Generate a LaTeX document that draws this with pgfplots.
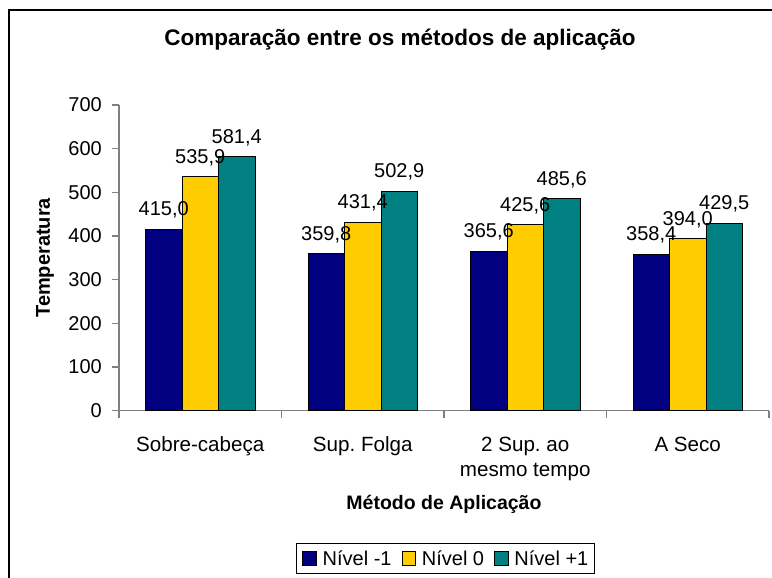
\documentclass[border=0pt]{standalone}
\usepackage{pgfplots}
\pgfplotsset{compat=1.18}
\usepackage{fontspec}
\setmainfont{Liberation Sans}
\frenchspacing
\definecolor{navyb}{HTML}{000080}
\definecolor{goldb}{HTML}{FFCC00}
\definecolor{tealb}{HTML}{008080}
\definecolor{axgray}{HTML}{808080}
\newcommand{\fs}{\fontsize{20}{24}\selectfont}
\newcommand{\fx}{\fontsize{20.6}{25}\selectfont}
\begin{document}
\begin{tikzpicture}[x=1pt,y=1pt]
\clip (0,0) rectangle (772,-578);
\fill[white] (0,0) rectangle (772,-578);
\draw[line width=1.5pt] (9,-620) -- (9,-10) -- (820,-10);
\begin{axis}[
  at={(119pt,-410.7pt)}, anchor=south west,
  scale only axis, width=650pt, height=305.7pt,
  xmin=-0.5, xmax=3.5, ymin=0, ymax=700,
  ybar=0pt, bar width=36.5pt,
  axis x line=bottom, axis y line=left,
  axis line style={draw=axgray, line width=1.2pt, -},
  ytick={0,100,...,700},
  xtick={0,1,2,3},
  xticklabels={Sobre-cabeça, Sup. Folga, {2 Sup. ao\\mesmo tempo}, A Seco},
  minor xtick={-0.5,0.5,1.5,2.5,3.5},
  tick align=outside, major tick length=7pt, minor tick length=7pt,
  every tick/.style={draw=axgray, line width=1.2pt},
  every major x tick/.append style={draw=none},
  /pgf/number format/assume math mode=true,
  yticklabel style={font=\fs, anchor=east, inner sep=0pt, xshift=-10pt},
  xticklabel style={font=\fx, anchor=north, align=center, inner sep=0pt, yshift=-19pt},
  title={Comparação entre os métodos de aplicação},
  title style={font=\fontsize{22.5}{26}\selectfont\bfseries, at={(axis description cs:0.4323,1.1766)}, anchor=base, inner sep=0pt},
  xlabel={Método de Aplicação},
  xlabel style={font=\fontsize{19.5}{23}\selectfont\bfseries, at={(axis description cs:0.5,-0.3248)}, anchor=base, inner sep=0pt},
  ylabel={Temperatura},
  ylabel style={font=\fs\bfseries, at={(axis description cs:-0.1062,0.5)}, anchor=base, inner sep=0pt},
  nodes near coords={\pgfmathprintnumber[fixed,fixed zerofill,precision=1,use comma,assume math mode=true]{\pgfplotspointmeta}},
  every node near coord/.append style={font=\fs, anchor=base, inner sep=0pt, yshift=13.5pt},
  legend columns=3,
  legend style={at={(axis description cs:0.2723,-0.4328)}, anchor=north west, draw=black, line width=0.8pt, font=\fs, inner xsep=6pt, inner ysep=7pt,
    nodes={inner sep=0pt},
    /tikz/every odd column/.style={column sep=6pt},
    /tikz/every even column/.style={column sep=10pt}},
  legend image code/.code={\draw[#1,draw=black,line width=0.8pt] (0pt,-6.75pt) rectangle (13.5pt,6.75pt);},
]
\addplot[fill=navyb, draw=black, line width=0.8pt] coordinates {(0,415.0) (1,359.8) (2,365.6) (3,358.4)};
\addplot[fill=goldb, draw=black, line width=0.8pt] coordinates {(0,535.9) (1,431.4) (2,425.6) (3,394.0)};
\addplot[fill=tealb, draw=black, line width=0.8pt] coordinates {(0,581.4) (1,502.9) (2,485.6) (3,429.5)};
\legend{Nível -1, Nível 0, Nível +1}
\end{axis}
\end{tikzpicture}
\end{document}
